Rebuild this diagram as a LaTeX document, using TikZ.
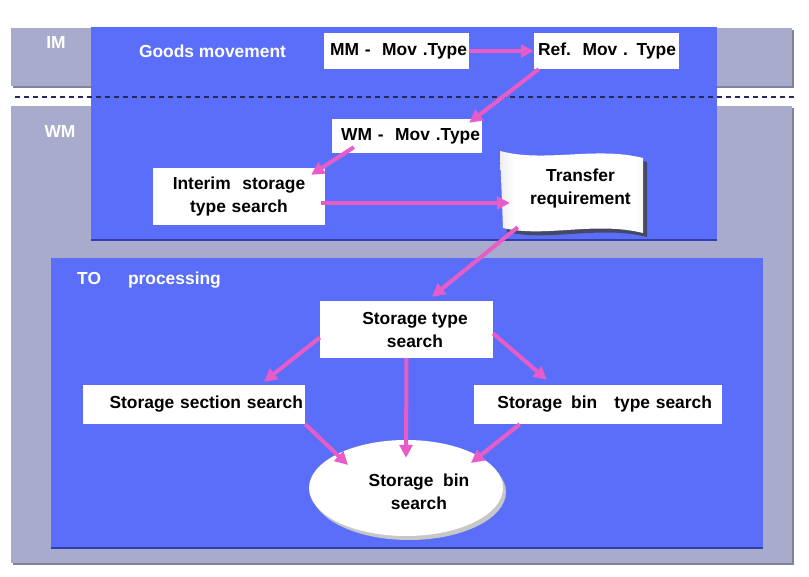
\documentclass[tikz,border=0pt]{standalone}
\usepackage{fontspec}
\setmainfont{Liberation Sans}
\usetikzlibrary{arrows.meta,shapes.geometric,calc}
\definecolor{band}{RGB}{168,171,204}
\definecolor{bandshadow}{RGB}{128,130,158}
\definecolor{bluebg}{RGB}{90,110,250}
\definecolor{blueedge}{RGB}{50,62,175}
\definecolor{pinkarr}{RGB}{232,92,200}
\definecolor{dashcol}{RGB}{40,40,90}
\pgfdeclarehorizontalshading{sheetshade}{100bp}{color(0bp)=(black!40); color(30bp)=(white); color(72bp)=(white); color(100bp)=(black!30)}
\begin{document}
\begin{tikzpicture}[x=1pt,y=-1pt,
  txt/.style={font=\fontsize{17.4}{23}\selectfont\bfseries},
  wbox/.style={txt, fill=white, inner ysep=0pt, inner xsep=2pt},
  lbl/.style={txt, text=white},
  arr/.style={draw=pinkarr, line width=4pt, -{Triangle[length=13pt,width=13pt]}},
]
\useasboundingbox (0,0) rectangle (809,577);
\fill[white] (0,0) rectangle (809,577);
% gray bands
\fill[bandshadow] (13,30) rectangle (794,88);
\fill[band] (11,28) rectangle (792,86);
\fill[bandshadow] (13,108) rectangle (794,565);
\fill[band] (11,106) rectangle (792,563);
% blue areas
\fill[blueedge] (91,29) rectangle (717,241);
\fill[bluebg] (91,27) rectangle (717,239);
\fill[blueedge] (51,260) rectangle (763,549);
\fill[bluebg] (51,258) rectangle (763,547);
% dashed separator
\draw[dashcol, line width=1.5pt, dash pattern=on 5pt off 4pt] (15,97) -- (795,97);
% labels
\node[lbl] (im) at (56,43) {IM};
\node[lbl] (wmlbl) at (60,132) {WM};
\node[lbl] (goods) at (212.5,51) {Goods movement};
\node[lbl, anchor=west, inner xsep=0pt] (to) at (77,280) {TO\hspace{27pt}processing};
% boxes
\node[wbox, minimum width=145, minimum height=36, text width=141, align=right] (mm) at (396.5,51) {MM -\ \ Mov .Type};
\node[wbox, inner xsep=3pt, minimum width=145, minimum height=36, text width=139, align=right] (ref) at (606.5,51) {Ref.\ \ Mov . Type};
\node[wbox, minimum width=150, minimum height=34, text width=146, align=right] (wm) at (407,136) {WM -\ \ Mov .Type};
\node[wbox, inner xsep=6pt, minimum width=172, minimum height=57, text width=160, align=center] (interim) at (239,196.5) {Interim\ \ storage\\type search};
% transfer requirement sheet
\fill[black!75, opacity=0.8] (504,155) .. controls (549,167) and (599,150) .. (647,162) -- (647,237) .. controls (599,225) and (549,242) .. (507,232) -- cycle;
\shade[shading=sheetshade] (500,151) .. controls (545,163) and (595,146) .. (643,158) -- (643,233) .. controls (595,221) and (545,238) .. (503,228) -- cycle;
\node[minimum width=143, minimum height=78, inner sep=0pt,
  label={[txt, align=center, xshift=9pt, yshift=1pt]center:{Transfer\\requirement}}] (transfer) at (571.5,190) {};
% TO processing boxes
\node[fill=white, inner sep=0pt, minimum width=173, minimum height=57,
  label={[txt, align=center, xshift=8.5pt, yshift=-0.5pt]center:{Storage type\\search}}] (stype) at (406.5,329.5) {};
\node[wbox, minimum width=222, minimum height=39, text width=218, align=right] (ssect) at (194,404.5) {Storage section search};
\node[wbox, inner xsep=10pt, minimum width=248, minimum height=39, text width=228, align=right] (sbtype) at (598,404.5) {Storage\hspace{9pt}bin\hspace{17pt}type search};
\fill[black!22] (409,492) ellipse [x radius=97pt, y radius=48pt];
\node[ellipse, fill=white, inner sep=0pt, minimum width=194, minimum height=96,
  label={[txt, align=center, xshift=13pt, yshift=-3.5pt]center:{Storage\ \ bin\\search}}] (sbin) at (406,488) {};
% arrows
\draw[arr] (mm.east) -- (ref.west);
\draw[arr] ([xshift=5pt]ref.south west) -- ([xshift=-13pt,yshift=-4pt]wm.north east);
\draw[arr] ([xshift=22pt,yshift=6pt]wm.south west) -- ([xshift=-14pt,yshift=-7pt]interim.north east);
\draw[arr] ([xshift=-4pt,yshift=-6.5pt]interim.east) -- ([xshift=10pt,yshift=-13pt]transfer.west);
\draw[arr] ([xshift=18pt,yshift=2pt]transfer.south west) -- ([xshift=25.5pt,yshift=4pt]stype.north);
\draw[arr] ([yshift=-8pt]stype.west) -- ([xshift=70pt,yshift=3pt]ssect.north);
\draw[arr] ([yshift=-4pt]stype.east) -- ([xshift=73pt,yshift=5pt]sbtype.north west);
\draw[arr] (stype.south) -- ([yshift=-18pt]sbin.north);
\draw[arr] (ssect.south east) -- ([xshift=-58pt,yshift=23pt]sbin.center);
\draw[arr] ([xshift=46pt]sbtype.south west) -- ([xshift=65pt,yshift=25pt]sbin.center);
\end{tikzpicture}
\end{document}
